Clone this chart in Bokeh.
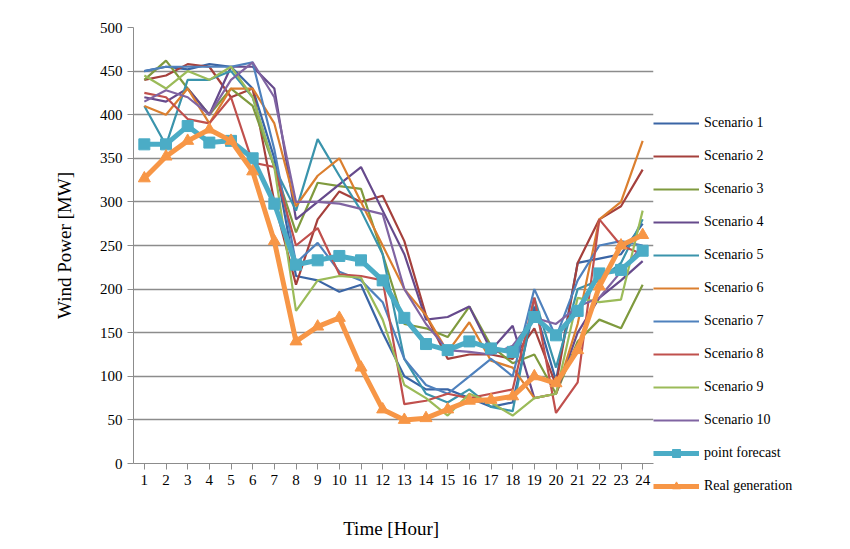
from bokeh.plotting import figure
from bokeh.models import Legend, LegendItem, FixedTicker, Range1d
from bokeh.embed import file_html
from bokeh.resources import INLINE

hours = list(range(1, 25))

s1 = [450, 455, 452, 458, 455, 430, 350, 215, 210, 197, 205, 150, 100, 85, 85, 75, 65, 70, 180, 95, 230, 235, 240, 275]
s2 = [440, 445, 458, 455, 420, 430, 300, 205, 280, 312, 300, 307, 255, 170, 120, 125, 125, 120, 155, 90, 230, 280, 295, 337]
s3 = [440, 462, 430, 400, 430, 410, 340, 265, 322, 318, 315, 240, 160, 155, 145, 180, 135, 115, 125, 80, 140, 165, 155, 205]
s4 = [420, 415, 430, 400, 455, 455, 430, 280, 300, 320, 340, 290, 240, 165, 168, 180, 130, 158, 75, 80, 150, 190, 210, 232]
s5 = [410, 365, 440, 440, 450, 420, 340, 290, 372, 330, 290, 240, 120, 80, 70, 85, 65, 60, 190, 110, 200, 210, 230, 280]
s6 = [410, 400, 430, 390, 430, 430, 390, 295, 330, 350, 300, 250, 200, 170, 128, 162, 118, 110, 75, 80, 160, 280, 300, 370]
s7 = [450, 455, 455, 455, 455, 460, 360, 230, 253, 220, 210, 185, 120, 90, 80, 100, 120, 100, 200, 145, 210, 250, 255, 250]
s8 = [425, 420, 395, 390, 420, 345, 340, 250, 270, 217, 215, 210, 68, 72, 80, 75, 80, 85, 190, 58, 93, 280, 250, 240]
s9 = [445, 430, 450, 440, 455, 420, 340, 175, 210, 215, 213, 165, 90, 75, 55, 80, 70, 55, 75, 80, 190, 185, 188, 290]
s10 = [415, 428, 420, 400, 440, 460, 420, 300, 300, 298, 292, 286, 200, 160, 130, 128, 125, 135, 167, 160, 180, 190, 220, 250]
point_forecast = [366, 366, 387, 368, 370, 350, 298, 228, 233, 238, 233, 210, 167, 137, 130, 140, 132, 128, 168, 147, 175, 218, 222, 244]
real_generation = [327, 352, 370, 383, 370, 335, 255, 140, 157, 167, 110, 62, 50, 52, 62, 72, 73, 77, 100, 92, 130, 203, 250, 262]

scenarios = [s1, s2, s3, s4, s5, s6, s7, s8, s9, s10]
colors = ["#3A65A5", "#A5403C", "#7F9A3E", "#664A8C", "#3A94AC",
          "#DB7F2F", "#4F81BD", "#C0504D", "#9BBB59", "#8064A2"]

font = "Liberation Serif"

p = figure(frame_width=520, frame_height=436, min_border_left=133, min_border_top=27,
           min_border_bottom=70, min_border_right=189,
           x_range=Range1d(0.5, 24.5), y_range=Range1d(0, 500),
           output_backend="svg", toolbar_location=None)
p.outline_line_color = None
p.xgrid.grid_line_color = None
p.ygrid.grid_line_color = "#8c8c8c"
p.ygrid.grid_line_width = 1.5
p.yaxis.ticker = FixedTicker(ticks=list(range(0, 501, 50)))
p.xaxis.ticker = FixedTicker(ticks=hours)
for ax in (p.xaxis, p.yaxis):
    ax.axis_line_color = "#8c8c8c"
    ax.major_tick_line_color = "#8c8c8c"
    ax.minor_tick_line_color = None
    ax.major_label_text_font = font
    ax.major_label_text_font_size = "15px"
    ax.major_label_text_color = "black"
    ax.axis_label_text_font = font
    ax.axis_label_text_font_size = "19px"
    ax.axis_label_text_font_style = "normal"
    ax.axis_label_text_color = "black"
p.xaxis.major_tick_in = 0
p.yaxis.major_tick_in = 0
p.xaxis.axis_label = "Time  [Hour]"
p.yaxis.axis_label = "Wind Power [MW]"
p.xaxis.axis_label_standoff = 30
p.yaxis.axis_label_standoff = 22

items = []
for i, (s, c) in enumerate(zip(scenarios, colors)):
    r = p.line(hours, s, line_color=c, line_width=2.2)
    items.append(LegendItem(label="Scenario %d" % (i + 1), renderers=[r]))

rpf = p.line(hours, point_forecast, line_color="#4BACC6", line_width=5)
spf = p.scatter(hours, point_forecast, marker="square", size=11, color="#4BACC6")
items.append(LegendItem(label="point forecast", renderers=[rpf, spf]))

rrg = p.line(hours, real_generation, line_color="#F79646", line_width=5)
srg = p.scatter(hours, real_generation, marker="triangle", size=12, color="#F79646")
items.append(LegendItem(label="Real generation", renderers=[rrg, srg]))

legend = Legend(items=items, location=(0, -33), spacing=13, glyph_height=20,
                glyph_width=46, label_text_font=font, label_text_font_size="14px",
                label_text_color="black",
                border_line_color=None, background_fill_alpha=0, padding=0, margin=0)
p.add_layout(legend, "right")

open("out.html", "w").write(file_html(p, INLINE))
